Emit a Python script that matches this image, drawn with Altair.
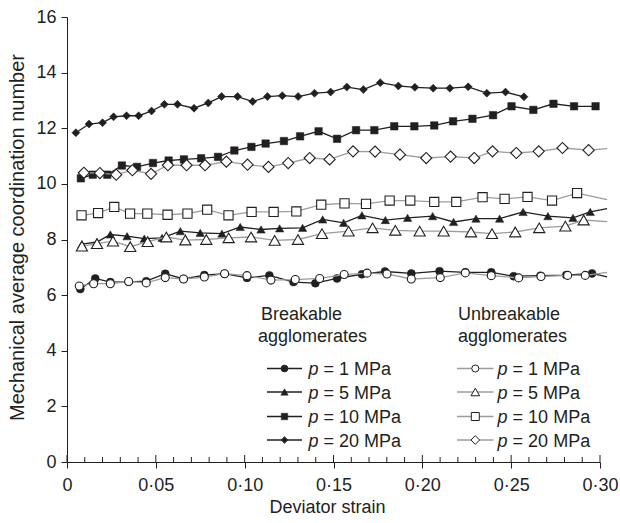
import altair as alt
import pandas as pd

# ---------------- data ----------------
# Breakable agglomerates
b1_strain = [0.0075, 0.0159, 0.0244, 0.0347, 0.0446, 0.0553, 0.0656, 0.0773, 0.0887, 0.1013, 0.1139, 0.1275,
             0.1398, 0.1520, 0.1660, 0.1790, 0.1938, 0.2097, 0.2242, 0.2388, 0.2514, 0.2665, 0.2810, 0.2955, 0.3040]
b1_cn = [6.22, 6.60, 6.47, 6.48, 6.50, 6.77, 6.58, 6.72, 6.77, 6.62, 6.71, 6.47,
         6.43, 6.60, 6.75, 6.85, 6.78, 6.86, 6.82, 6.82, 6.68, 6.70, 6.72, 6.78, 6.66]

b5_strain = [0.0084, 0.0169, 0.0244, 0.0338, 0.0435, 0.0535, 0.0638, 0.0750, 0.0872, 0.0975, 0.1092, 0.1197,
             0.1326, 0.1439, 0.1557, 0.1660, 0.1792, 0.1917, 0.2058, 0.2176, 0.2302, 0.2435, 0.2567, 0.2707,
             0.2848, 0.2945, 0.3040]
b5_cn = [7.83, 7.91, 8.18, 8.12, 8.03, 8.06, 8.30, 8.24, 8.21, 8.45, 8.36, 8.40,
         8.42, 8.72, 8.60, 8.87, 8.70, 8.78, 8.84, 8.63, 8.75, 8.75, 8.99, 8.84,
         8.78, 8.99, 9.11]

b10_strain = [0.0078, 0.0145, 0.0227, 0.0309, 0.0394, 0.0484, 0.0572, 0.0658, 0.0755, 0.0850, 0.0942, 0.1038,
              0.1118, 0.1221, 0.1312, 0.1416, 0.1520, 0.1627, 0.1730, 0.1842, 0.1955, 0.2067, 0.2173, 0.2282,
              0.2398, 0.2502, 0.2625, 0.2738, 0.2854, 0.2975]
b10_cn = [10.20, 10.33, 10.33, 10.66, 10.61, 10.75, 10.84, 10.88, 10.92, 10.97, 11.20, 11.33,
          11.45, 11.54, 11.71, 11.89, 11.62, 11.93, 11.93, 12.07, 12.07, 12.10, 12.25, 12.34,
          12.47, 12.79, 12.66, 12.88, 12.79, 12.79]

b20_strain = [0.0050, 0.0124, 0.0200, 0.0262, 0.0335, 0.0403, 0.0476, 0.0548, 0.0622, 0.0715, 0.0795, 0.0870,
              0.0960, 0.1045, 0.1128, 0.1212, 0.1301, 0.1393, 0.1484, 0.1575, 0.1668, 0.1763, 0.1865, 0.1958,
              0.2061, 0.2155, 0.2258, 0.2363, 0.2468, 0.2572]
b20_cn = [11.84, 12.15, 12.20, 12.41, 12.45, 12.45, 12.62, 12.86, 12.86, 12.72, 12.91, 13.14,
          13.14, 12.96, 13.14, 13.17, 13.14, 13.26, 13.30, 13.48, 13.39, 13.64, 13.52, 13.47,
          13.44, 13.44, 13.49, 13.26, 13.30, 13.13]

# Unbreakable agglomerates
u1_strain = [0.0069, 0.0150, 0.0244, 0.0347, 0.0446, 0.0553, 0.0656, 0.0773, 0.0887, 0.1013, 0.1148, 0.1285,
             0.1422, 0.1560, 0.1689, 0.1801, 0.1938, 0.2101, 0.2242, 0.2388, 0.2542, 0.2668, 0.2818, 0.2917, 0.3040]
u1_cn = [6.33, 6.41, 6.41, 6.49, 6.44, 6.63, 6.58, 6.65, 6.77, 6.70, 6.54, 6.56,
         6.60, 6.74, 6.79, 6.76, 6.58, 6.63, 6.80, 6.70, 6.62, 6.67, 6.71, 6.71, 6.82]

u5_strain = [0.0084, 0.0169, 0.0259, 0.0356, 0.0454, 0.0559, 0.0666, 0.0784, 0.0910, 0.1036, 0.1169, 0.1300,
             0.1435, 0.1585, 0.1720, 0.1848, 0.1985, 0.2120, 0.2274, 0.2392, 0.2523, 0.2658, 0.2805, 0.2908, 0.3040]
u5_cn = [7.76, 7.85, 7.94, 7.74, 7.92, 8.09, 7.98, 8.00, 8.06, 8.09, 7.97, 8.00,
         8.21, 8.30, 8.42, 8.33, 8.30, 8.30, 8.27, 8.21, 8.27, 8.42, 8.48, 8.70, 8.64]

u10_strain = [0.0082, 0.0175, 0.0266, 0.0355, 0.0452, 0.0566, 0.0678, 0.0789, 0.0909, 0.1039, 0.1163, 0.1291,
              0.1431, 0.1562, 0.1683, 0.1816, 0.1932, 0.2067, 0.2191, 0.2339, 0.2463, 0.2592, 0.2730, 0.2871, 0.3040]
u10_cn = [8.87, 8.95, 9.17, 8.93, 8.93, 8.89, 8.93, 9.07, 8.87, 8.99, 8.99, 9.01,
          9.25, 9.30, 9.28, 9.40, 9.40, 9.35, 9.35, 9.52, 9.46, 9.53, 9.40, 9.67, 9.43]

u20_strain = [0.0095, 0.0185, 0.0277, 0.0368, 0.0473, 0.0568, 0.0673, 0.0777, 0.0897, 0.1016, 0.1134, 0.1245,
              0.1366, 0.1478, 0.1610, 0.1734, 0.1874, 0.2022, 0.2159, 0.2292, 0.2395, 0.2529, 0.2655, 0.2789,
              0.2936, 0.3040]
u20_cn = [10.40, 10.39, 10.33, 10.49, 10.36, 10.67, 10.67, 10.67, 10.80, 10.69, 10.61, 10.75,
          10.93, 10.88, 11.17, 11.16, 11.05, 10.93, 10.98, 10.93, 11.17, 11.11, 11.17, 11.29,
          11.21, 11.27]

pressures = ["1", "5", "10", "20"]
major_ticks = [0, 0.05, 0.10, 0.15, 0.20, 0.25, 0.30]
minor_ticks = [0.01, 0.02, 0.03, 0.04, 0.06, 0.07, 0.08, 0.09, 0.11, 0.12, 0.13, 0.14,
               0.16, 0.17, 0.18, 0.19, 0.21, 0.22, 0.23, 0.24, 0.26, 0.27, 0.28, 0.29]
y_ticks = [0, 2, 4, 6, 8, 10, 12, 14, 16]

# ---------------- styling ----------------
FONT = "Liberation Sans"
INK = "#231f20"
GRAY = "#9d9d9d"
W, H = 533, 445

xscale = alt.Scale(domain=[0, 0.30], nice=False, zero=False)
yscale = alt.Scale(domain=[0, 16], nice=False)

x_axis = alt.Axis(
    values=major_ticks,
    labelExpr="datum.value == 0 ? '0' : replace(format(datum.value, '.2f'), '.', '\u00b7')",
    tickSize=6, labelPadding=8, labelFlush=False, labelOverlap=False,
    title="Deviator strain", titlePadding=4, titleX=260, grid=False,
)
y_axis = alt.Axis(
    values=y_ticks, tickSize=6, labelPadding=5, labelOverlap=False, labelFlush=False,
    title="Mechanical average coordination number", titlePadding=8, titleFontSize=20,
    titleY=220, grid=False,
)

X = alt.X("strain:Q", scale=xscale, axis=x_axis)
Y = alt.Y("cn:Q", scale=yscale, axis=y_axis)


def series(xs, ys, breakable, shape, size):
    df = pd.DataFrame({"strain": xs, "cn": ys})
    base = alt.Chart(df).encode(x=X, y=Y)
    line = base.mark_line(color=INK if breakable else GRAY, strokeWidth=1.3)
    if breakable:
        pts = base.transform_filter("datum.strain <= 0.3").mark_point(
            shape=shape, filled=True, fill=INK, stroke=INK, strokeWidth=0.5, size=size, opacity=1)
    else:
        pts = base.transform_filter("datum.strain <= 0.3").mark_point(
            shape=shape, filled=True, fill="white", stroke=INK, strokeWidth=1.1, size=size, opacity=1)
    return line, pts


b_specs = [(b1_strain, b1_cn, "circle", 64), (b5_strain, b5_cn, "triangle-up", 70),
           (b10_strain, b10_cn, "square", 56), (b20_strain, b20_cn, "diamond", 64)]
u_specs = [(u1_strain, u1_cn, "circle", 64), (u5_strain, u5_cn, "triangle-up", 125),
           (u10_strain, u10_cn, "square", 84), (u20_strain, u20_cn, "diamond", 125)]

layers = []
# axis tick marks along the x axis (pointing up into the plot)
minor_df = pd.DataFrame({"strain": minor_ticks})
major_df = pd.DataFrame({"strain": major_ticks})
layers.append(alt.Chart(minor_df).mark_rule(color=INK, strokeWidth=1).encode(
    x=X, y=alt.value(H - 5), y2=alt.value(H)))
layers.append(alt.Chart(major_df).mark_rule(color=INK, strokeWidth=1).encode(
    x=X, y=alt.value(H - 7), y2=alt.value(H)))

b_lines, b_pts, u_lines, u_pts = [], [], [], []
for xs, ys, shp, sz in b_specs:
    l, p = series(xs, ys, True, shp, sz)
    b_lines.append(l); b_pts.append(p)
for xs, ys, shp, sz in u_specs:
    l, p = series(xs, ys, False, shp, sz)
    u_lines.append(l); u_pts.append(p)
layers += b_lines + b_pts + u_lines + u_pts

# ---------------- legend (drawn inside the plot) ----------------
one = pd.DataFrame({"k": [0]})


def txt(t, x, y, italic=False):
    return alt.Chart(one).mark_text(
        text=t, align="left", baseline="alphabetic", font=FONT, fontSize=18,
        fontStyle="italic" if italic else "normal", color=INK,
    ).encode(x=alt.value(x), y=alt.value(y))


layers.append(txt("Breakable", 194, 303))
layers.append(txt("agglomerates", 191, 325))
layers.append(txt("Unbreakable", 391, 303))
layers.append(txt("agglomerates", 391, 325))

row_base = [358, 381.5, 406, 429.5]
leg_b = [("circle", 50), ("triangle-up", 55), ("square", 42), ("diamond", 50)]
leg_u = [("circle", 50), ("triangle-up", 75), ("square", 64), ("diamond", 75)]
for i, pr in enumerate(pressures):
    yb = row_base[i]
    ym = yb - 6.5
    # breakable column
    layers.append(alt.Chart(one).mark_rule(color=INK, strokeWidth=1.3).encode(
        x=alt.value(200), x2=alt.value(235), y=alt.value(ym)))
    layers.append(alt.Chart(one).mark_point(
        shape=leg_b[i][0], filled=True, fill=INK, stroke=INK, strokeWidth=0.5,
        size=leg_b[i][1], opacity=1).encode(x=alt.value(217.5), y=alt.value(ym)))
    layers.append(txt("p", 241.5, yb, italic=True))
    layers.append(txt("= " + pr + " MPa", 256.5, yb))
    # unbreakable column
    layers.append(alt.Chart(one).mark_rule(color=GRAY, strokeWidth=1.3).encode(
        x=alt.value(390), x2=alt.value(426.5), y=alt.value(ym)))
    layers.append(alt.Chart(one).mark_point(
        shape=leg_u[i][0], filled=True, fill="white", stroke=INK, strokeWidth=1.0,
        size=leg_u[i][1], opacity=1).encode(x=alt.value(408.3), y=alt.value(ym)))
    layers.append(txt("p", 430.6, yb, italic=True))
    layers.append(txt("= " + pr + " MPa", 445.6, yb))

chart = alt.layer(*layers).properties(
    width=W, height=H,
    padding={"left": 67, "top": 17, "right": 20, "bottom": 61},
    autosize=alt.AutoSizeParams(type="none"),
).configure_view(stroke=None).configure_axis(
    labelFont=FONT, titleFont=FONT, labelFontSize=18, titleFontSize=18,
    labelColor=INK, titleColor=INK, domainColor=INK, tickColor=INK,
    titleFontWeight="normal", domainWidth=1, tickWidth=1,
)

chart.save("out.html", embed_options={"renderer": "svg", "actions": False})
